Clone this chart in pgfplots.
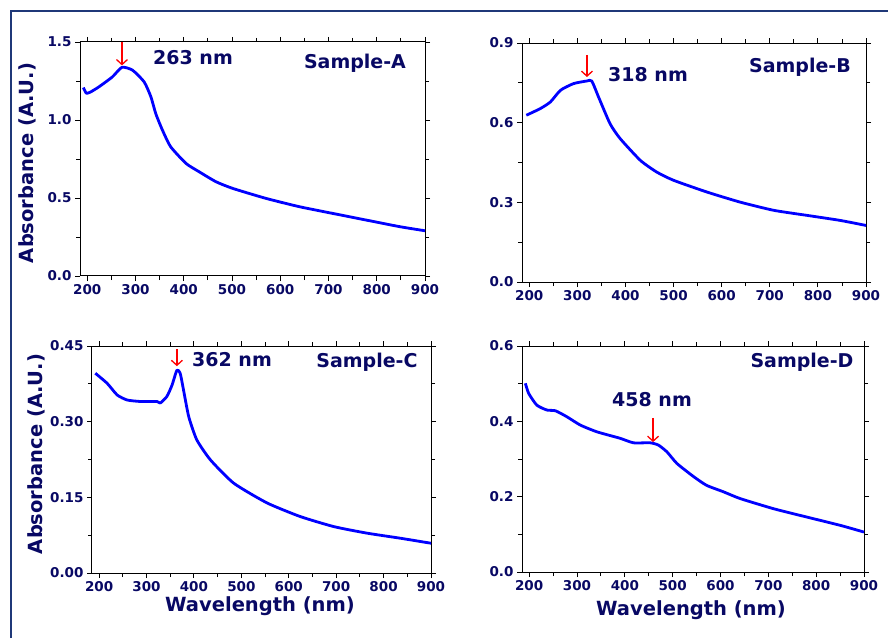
\documentclass[border=0pt]{standalone}
\usepackage{pgfplots}
\pgfplotsset{compat=1.18}
\usepackage{fontspec}
\setmainfont{DejaVu Sans}
\usetikzlibrary{arrows.meta}
\definecolor{navytxt}{RGB}{8,8,100}
\definecolor{curve}{RGB}{0,0,255}
\definecolor{frameblue}{RGB}{31,56,120}

\pgfplotsset{
  uvpanel/.style={
    scale only axis, anchor=south west,
    xmin=185, xmax=900, ymin=0,
    xtick={200,300,...,900}, minor x tick num=1, minor y tick num=1,
    tick align=outside, major tick length=5pt, minor tick length=4pt,
    tick style={black, line width=0.9pt},
    axis line style={black, line width=1pt},
    ticklabel style={font=\fontsize{13.5}{13.5}\selectfont\bfseries, text=navytxt},
    /pgf/number format/assume math mode=true,
    every axis plot/.append style={curve, line width=2.8pt, line join=round, no marks, smooth, tension=0.35},
  },
}
\tikzset{peak/.style={red, line width=1.3pt, -{Straight Barb[length=5pt,width=11pt]}}}
\newcommand{\lbl}{\fontsize{19}{19}\selectfont\bfseries\color{navytxt}}
\newcommand{\axl}{\fontsize{19.5}{19.5}\selectfont\bfseries\color{navytxt}}

\begin{document}
\begin{tikzpicture}
\path[use as bounding box] (0pt,0pt) rectangle (888pt,638pt);
\draw[frameblue, line width=2pt] (11pt,0pt) -- (11pt,627pt) -- (888pt,627pt);

% Sample-A
\begin{axis}[uvpanel, at={(80pt,362pt)}, width=345pt, height=234pt,
  ymax=1.5, ytick={0,0.5,1,1.5},
  yticklabel style={/pgf/number format/.cd, fixed, fixed zerofill, precision=1}]
\addplot coordinates {
(192,1.208)(198,1.172)(206,1.178)(224,1.212)(252,1.276)(272,1.338)(294,1.319)(318,1.244)
(332,1.148)(342,1.041)(356,0.934)(373,0.828)(405,0.721)(432,0.668)(467,0.604)
(502,0.561)(571,0.497)(640,0.444)(709,0.401)(779,0.358)(848,0.316)(900,0.290)};
\draw[peak] (272,1.5) -- (272,1.35);
\end{axis}

% Sample-B
\begin{axis}[uvpanel, at={(522pt,356pt)}, width=344pt, height=239pt,
  ymax=0.9, ytick={0,0.3,0.6,0.9},
  yticklabel style={/pgf/number format/.cd, fixed, fixed zerofill, precision=1}]
\addplot coordinates {
(194,0.628)(223,0.653)(244,0.678)(265,0.722)(292,0.747)(320,0.757)(330,0.757)
(344,0.697)(368,0.596)(389,0.540)(431,0.458)(465,0.414)(500,0.383)(569,0.339)
(638,0.301)(708,0.270)(777,0.251)(846,0.232)(900,0.213)};
\draw[peak] (320,0.855) -- (320,0.772);
\end{axis}

% Sample-C
\begin{axis}[uvpanel, at={(92pt,65pt)}, width=339pt, height=227pt,
  ymax=0.45, ytick={0,0.15,0.30,0.45},
  yticklabel style={/pgf/number format/.cd, fixed, fixed zerofill, precision=2}]
\addplot coordinates {
(192,0.396)(217,0.376)(238,0.353)(259,0.343)(287,0.340)(322,0.340)(329,0.337)
(343,0.350)(354,0.373)(364,0.402)(371,0.396)(378,0.363)(389,0.310)(406,0.264)
(435,0.224)(484,0.178)(554,0.139)(624,0.112)(695,0.092)(765,0.079)(835,0.069)
(900,0.059)};
\draw[peak] (364,0.444) -- (364,0.410);
\end{axis}

% Sample-D
\begin{axis}[uvpanel, at={(522pt,66pt)}, width=342pt, height=226pt,
  ymax=0.6, ytick={0,0.2,0.4,0.6},
  yticklabel style={/pgf/number format/.cd, fixed, fixed zerofill, precision=1}]
\addplot coordinates {
(192,0.501)(199,0.474)(216,0.443)(237,0.430)(255,0.428)(279,0.412)(307,0.390)
(342,0.372)(390,0.355)(418,0.343)(453,0.343)(470,0.337)(488,0.319)(509,0.288)
(544,0.253)(571,0.230)(606,0.213)(641,0.195)(711,0.168)(780,0.146)(850,0.124)
(900,0.106)};
\draw[peak] (459,0.409) -- (459,0.345);
\end{axis}

% annotations
\node at (193pt,580pt) {\lbl 263 nm};
\node at (355pt,575pt) {\lbl Sample-A};
\node at (648pt,563pt) {\lbl 318 nm};
\node at (800pt,571pt) {\lbl Sample-B};
\node at (232pt,278pt) {\lbl 362 nm};
\node at (367pt,276pt) {\lbl Sample-C};
\node at (652pt,238pt) {\lbl 458 nm};
\node at (802pt,276pt) {\lbl Sample-D};

% axis titles
\node[rotate=90] at (27pt,475pt) {\axl Absorbance (A.U.)};
\node[rotate=90] at (36pt,184pt) {\axl Absorbance (A.U.)};
\node at (260pt,32pt) {\axl Wavelength (nm)};
\node at (691pt,28pt) {\axl Wavelength (nm)};
\end{tikzpicture}
\end{document}
